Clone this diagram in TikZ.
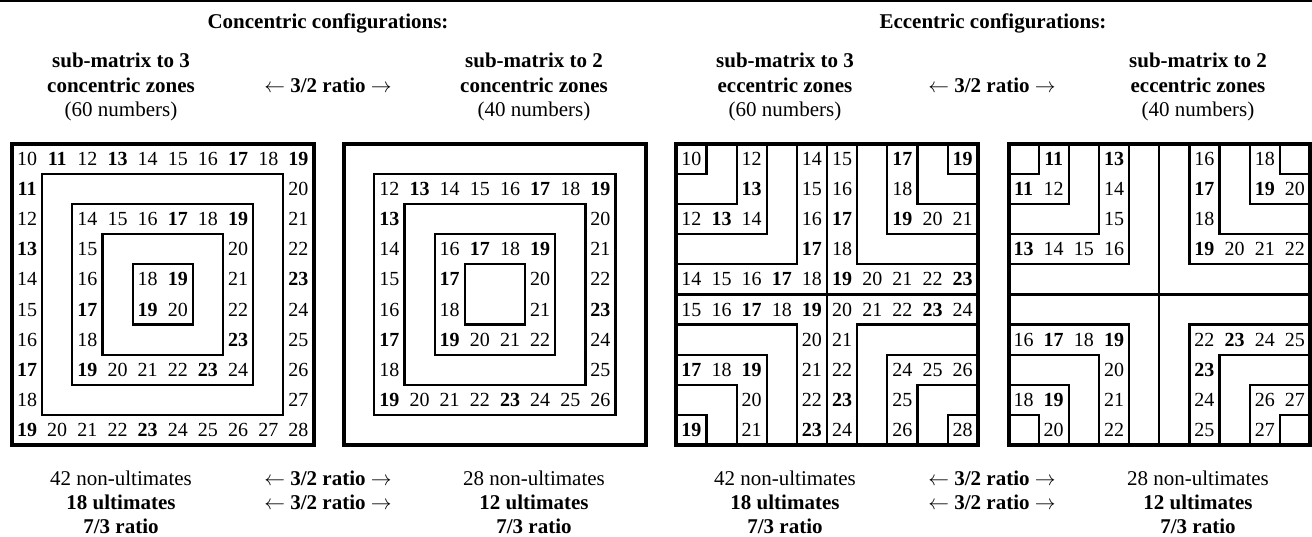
\documentclass[tikz,border=0pt]{standalone}
\usepackage{fontspec}
\setmainfont{Liberation Serif}
\newcommand\nb[1]{\ifnum#1=11 \textbf{#1}\else\ifnum#1=13 \textbf{#1}\else\ifnum#1=17 \textbf{#1}\else\ifnum#1=19 \textbf{#1}\else\ifnum#1=23 \textbf{#1}\else#1\fi\fi\fi\fi\fi}
\newcommand\hrow[5]{\foreach \v [count=\i from #4] in {#5}{\node[num] (#1-\i-#3) at (\i+0.5,#3+0.5) {\nb{\v}};}}
\newcommand\vcol[5]{\foreach \v [count=\i from #4] in {#5}{\node[num] (#1-#3-\i) at (#3+0.5,\i+0.5) {\nb{\v}};}}
\newcommand\ratiotxt{$\leftarrow$ \textbf{3/2 ratio} $\rightarrow$}
\newcommand\ecclines{%
  \foreach \k in {1,...,4}{%
    \draw[thinl] (\k,0) -- (\k,\k) -- (0,\k);
    \draw[thinl] (10-\k,0) -- (10-\k,\k) -- (10,\k);
    \draw[thinl] (0,10-\k) -- (\k,10-\k) -- (\k,10);
    \draw[thinl] (10,10-\k) -- (10-\k,10-\k) -- (10-\k,10);}
  \draw[thinl] (5,0) -- (5,10) (0,5) -- (10,5);
  \draw[frame] (0,0) rectangle (10,10);}
\begin{document}
\begin{tikzpicture}[x=1pt,y=-1pt,
  num/.style={inner sep=0pt, font=\fontsize{20}{24}\selectfont},
  lab/.style={inner sep=0pt, anchor=base, font=\fontsize{21}{25}\selectfont},
  labb/.style={lab, font=\fontsize{21}{25}\selectfont\bfseries},
  thinl/.style={line width=2.2pt},
  frame/.style={line width=4pt}]
\useasboundingbox (0,0) rectangle (1312,537);
\draw[line width=2pt] (0,1) -- (1312,1);

% headers
\node[labb] (hc) at (328,29) {Concentric configurations:};
\node[labb] (he) at (993,29) {Eccentric configurations:};
\foreach \off/\kind/\id in {0/concentric/c,664/eccentric/e}{
  \node[labb] (\id t1a) at (121+\off,68) {sub-matrix to 3};
  \node[labb] (\id t1b) at (121+\off,93) {\kind{} zones};
  \node[lab]  (\id t1c) at (121+\off,117) {(60 numbers)};
  \node[lab]  (\id tr)  at (328+\off,93) {\ratiotxt};
  \node[labb] (\id t2a) at (534+\off,68) {sub-matrix to 2};
  \node[labb] (\id t2b) at (534+\off,93) {\kind{} zones};
  \node[lab]  (\id t2c) at (534+\off,117) {(40 numbers)};
  \node[lab]  (\id b1a) at (121+\off,485) {42 non-ultimates};
  \node[labb] (\id b1b) at (121+\off,509) {18 ultimates};
  \node[labb] (\id b1c) at (121+\off,533) {7/3 ratio};
  \node[lab]  (\id br1) at (328+\off,485) {\ratiotxt};
  \node[lab]  (\id br2) at (328+\off,509) {\ratiotxt};
  \node[lab]  (\id b2a) at (534+\off,485) {28 non-ultimates};
  \node[labb] (\id b2b) at (534+\off,509) {12 ultimates};
  \node[labb] (\id b2c) at (534+\off,533) {7/3 ratio};
}

% grid 1: 3 concentric zones
\begin{scope}[shift={(12,143.7)},x=30.15pt,y=-30.15pt]
  \hrow{a}{}{0}{0}{10,11,12,13,14,15,16,17,18,19}
  \vcol{a}{}{0}{1}{11,12,13,14,15,16,17,18,19}
  \vcol{a}{}{9}{1}{20,21,22,23,24,25,26,27,28}
  \hrow{a}{}{9}{1}{20,21,22,23,24,25,26,27}
  \hrow{a}{}{2}{2}{14,15,16,17,18,19}
  \vcol{a}{}{2}{3}{15,16,17,18,19}
  \vcol{a}{}{7}{3}{20,21,22,23,24}
  \hrow{a}{}{7}{3}{20,21,22,23}
  \hrow{a}{}{4}{4}{18,19}
  \hrow{a}{}{5}{4}{19,20}
  \draw[thinl] (1,1) rectangle (9,9) (2,2) rectangle (8,8)
               (3,3) rectangle (7,7) (4,4) rectangle (6,6);
  \draw[frame] (0,0) rectangle (10,10);
\end{scope}

% grid 2: 2 concentric zones
\begin{scope}[shift={(344.2,143.7)},x=30.15pt,y=-30.15pt]
  \hrow{b}{}{1}{1}{12,13,14,15,16,17,18,19}
  \vcol{b}{}{1}{2}{13,14,15,16,17,18,19}
  \vcol{b}{}{8}{2}{20,21,22,23,24,25,26}
  \hrow{b}{}{8}{2}{20,21,22,23,24,25}
  \hrow{b}{}{3}{3}{16,17,18,19}
  \vcol{b}{}{3}{4}{17,18,19}
  \vcol{b}{}{6}{4}{20,21,22}
  \hrow{b}{}{6}{4}{20,21}
  \draw[thinl] (1,1) rectangle (9,9) (2,2) rectangle (8,8)
               (3,3) rectangle (7,7) (4,4) rectangle (6,6);
  \draw[frame] (0,0) rectangle (10,10);
\end{scope}

% grid 3: 3 eccentric zones
\begin{scope}[shift={(676.3,143.7)},x=30.15pt,y=-30.15pt]
  \hrow{c}{}{0}{0}{10}
  \vcol{c}{}{2}{0}{12,13}
  \hrow{c}{}{2}{0}{12,13,14}
  \vcol{c}{}{4}{0}{14,15,16,17}
  \hrow{c}{}{4}{0}{14,15,16,17,18}
  \vcol{c}{}{5}{0}{15,16,17,18}
  \hrow{c}{}{4}{5}{19,20,21,22,23}
  \vcol{c}{}{7}{0}{17,18}
  \hrow{c}{}{2}{7}{19,20,21}
  \hrow{c}{}{0}{9}{19}
  \hrow{c}{}{5}{0}{15,16,17,18,19}
  \vcol{c}{}{4}{6}{20,21,22,23}
  \hrow{c}{}{5}{5}{20,21,22,23,24}
  \vcol{c}{}{5}{6}{21,22,23,24}
  \hrow{c}{}{7}{0}{17,18,19}
  \vcol{c}{}{2}{8}{20,21}
  \hrow{c}{}{7}{7}{24,25,26}
  \vcol{c}{}{7}{8}{25,26}
  \hrow{c}{}{9}{0}{19}
  \hrow{c}{}{9}{9}{28}
  \ecclines
\end{scope}

% grid 4: 2 eccentric zones
\begin{scope}[shift={(1008.5,143.7)},x=30.15pt,y=-30.15pt]
  \hrow{d}{}{0}{1}{11}
  \hrow{d}{}{1}{0}{11,12}
  \vcol{d}{}{3}{0}{13,14,15}
  \hrow{d}{}{3}{0}{13,14,15,16}
  \vcol{d}{}{6}{0}{16,17,18}
  \hrow{d}{}{3}{6}{19,20,21,22}
  \hrow{d}{}{0}{8}{18}
  \hrow{d}{}{1}{8}{19,20}
  \hrow{d}{}{6}{0}{16,17,18,19}
  \vcol{d}{}{3}{7}{20,21,22}
  \hrow{d}{}{6}{6}{22,23,24,25}
  \vcol{d}{}{6}{7}{23,24,25}
  \hrow{d}{}{8}{0}{18,19}
  \vcol{d}{}{1}{9}{20}
  \hrow{d}{}{8}{8}{26,27}
  \vcol{d}{}{8}{9}{27}
  \ecclines
\end{scope}
\end{tikzpicture}
\end{document}
